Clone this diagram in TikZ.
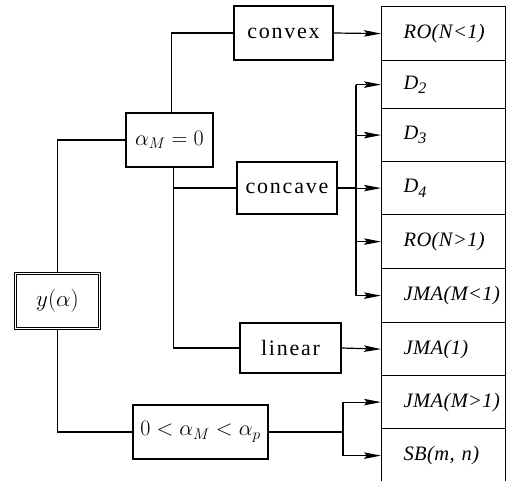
\RequirePackage{fix-cm}
\documentclass[tikz,border=0pt]{standalone}
\usepackage{fontspec}
\setmainfont{Liberation Serif}
\newfontfamily\wordfont[LetterSpace=8]{Liberation Serif}
\newfontfamily\rowfont[LetterSpace=2]{Liberation Serif}
\usetikzlibrary{arrows.meta,calc}
\newcommand{\sub}[1]{\raisebox{-0.22em}{\fontsize{16}{16}\selectfont #1}}
\tikzset{
  box/.style={draw, line width=1.2pt, inner sep=0pt, minimum height=54pt},
  word/.style={box, font=\wordfont\fontsize{22}{25}\selectfont},
  formula/.style={box, font=\fontsize{22}{26}\selectfont},
  ybox/.style={box, double=white, double distance=1pt, line width=1.3pt, font=\fontsize{23}{27}\selectfont},
  cell/.style={draw, line width=1.2pt, anchor=north west, minimum width=124pt,
    inner xsep=22pt, inner ysep=0pt, text width=80pt, align=left,
    font=\rowfont\itshape\fontsize{20.5}{23}\selectfont},
  wire/.style={line width=1.2pt},
  arrow/.style={line width=1.2pt, -{Stealth[length=17pt, width=6.5pt, inset=3pt]}}
}
\begin{document}
\begin{tikzpicture}[x=1pt,y=-1pt]
\useasboundingbox (0,0) rectangle (518,480);
% right column
\node[cell, minimum height=54pt] (c1) at (381,6)   {RO(N<1)};
\node[cell, minimum height=48pt] (c2) at (381,60)  {D\sub{2}};
\node[cell, minimum height=53pt] (c3) at (381,108) {D\sub{3}};
\node[cell, minimum height=53pt] (c4) at (381,161) {D\sub{4}};
\node[cell, minimum height=54pt] (c5) at (381,214) {RO(N>1)};
\node[cell, minimum height=54pt] (c6) at (381,268) {JMA(M<1)};
\node[cell, minimum height=53pt] (c7) at (381,322) {JMA(1)};
\node[cell, minimum height=53pt] (c8) at (381,375) {JMA(M>1)};
\node[cell, minimum height=54pt] (c9) at (381,428) {SB(m,\ n)};
% boxes
\node[word, minimum width=99pt] (convex) at (283.5,33) {convex};
\node[formula, minimum width=87pt] (am) at (169.5,140) {$\alpha_M=0$};
\node[word, minimum width=100pt, minimum height=52pt] (concave) at (287,188) {concave};
\node[word, minimum width=101pt, minimum height=50pt] (linear) at (290.5,348) {linear};
\node[formula, minimum width=135pt] (range) at (200.5,432) {$0<\alpha_M<\alpha_p$};
\node[ybox, minimum width=84pt, minimum height=55pt] (y) at (57.5,301) {$y(\alpha)$};
% connectors
\draw[wire] ([xshift=2pt]am.north) |- (convex.west);
\draw[arrow] (convex.east) -- (c1.west);
\draw[wire] (y.north) |- (am.west);
\draw[wire] ([xshift=4pt]am.south) |- (linear.west);
\draw[wire] ([xshift=4pt]am.south |- concave.west) -- (concave.west);
\coordinate (bus1) at (356,0);
\draw[wire] (concave.east) -- (bus1 |- concave.east);
\draw[wire] (bus1 |- c2.west) -- (bus1 |- c6.west);
\foreach \c in {c2,c3,c4,c5,c6} \draw[arrow] (bus1 |- \c.west) -- (\c.west);
\draw[arrow] (linear.east) -- (c7.west);
\draw[wire] (y.south) |- (range.west);
\coordinate (bus2) at (343,0);
\draw[wire] (range.east) -- (bus2 |- range.east);
\draw[wire] (bus2 |- c8.west) -- (bus2 |- c9.west);
\foreach \c in {c8,c9} \draw[arrow] (bus2 |- \c.west) -- (\c.west);
\end{tikzpicture}
\end{document}
